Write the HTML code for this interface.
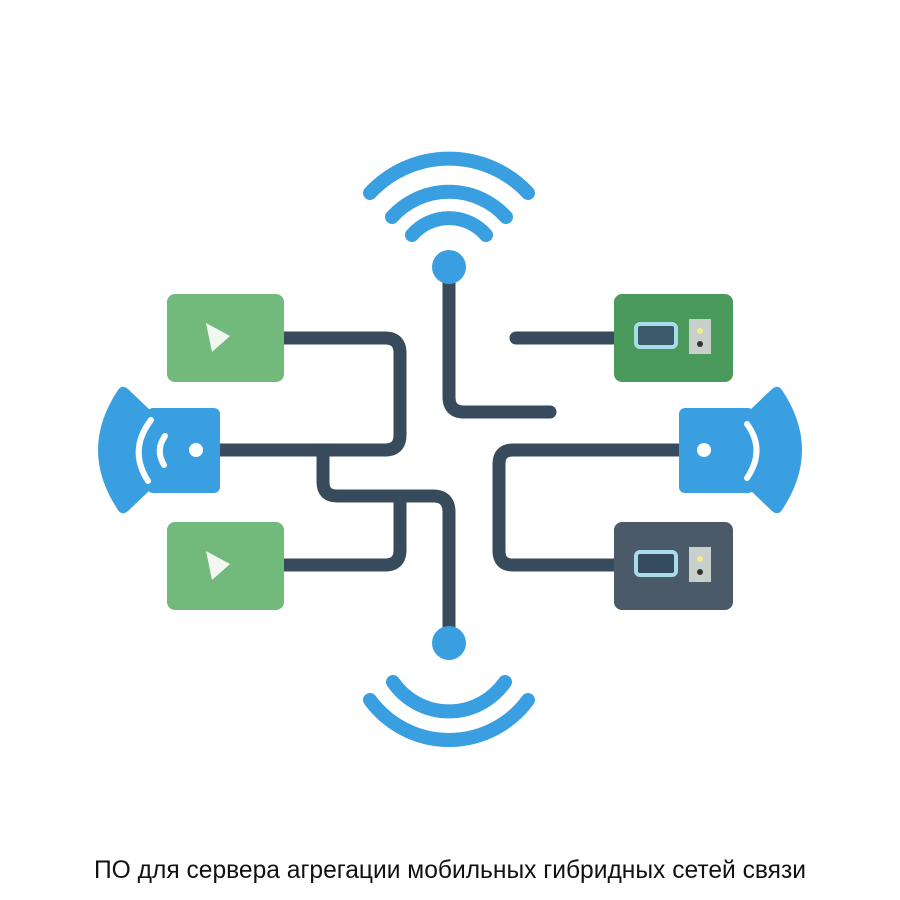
<!DOCTYPE html>
<html><head><meta charset="utf-8"><style>html,body{margin:0;padding:0;background:#fff}svg{display:block}</style></head>
<body>
<svg width="900" height="900" viewBox="0 0 900 900" xmlns="http://www.w3.org/2000/svg">
<rect width="900" height="900" fill="#fff"/>
<g fill="none" stroke="#374b5c" stroke-width="13" stroke-linecap="round" stroke-linejoin="round">
  <path d="M280 338 H385 Q400 338 400 353 V435 Q400 450 385 450 H215"/>
  <path d="M323 450 V482 Q323 496 337 496 H433 Q449 496 449 512 V630"/>
  <path d="M400 496 V550 Q400 565 385 565 H280"/>
  <path d="M449 280 V397 Q449 412 464 412 H550"/>
  <path d="M516 338 H616"/>
  <path d="M682 450 H513 Q499 450 499 464 V551 Q499 565 513 565 H616"/>
</g>
<g fill="none" stroke="#3a9fe0" stroke-width="14" stroke-linecap="round">
  <path d="M412 235 A49 49 0 0 1 486 235"/>
  <path d="M392 217 A77 77 0 0 1 506 217"/>
  <path d="M370 193 A108 108 0 0 1 528 193"/>
  <path d="M393 682 A68 68 0 0 0 505 682"/>
  <path d="M370 700 A98 98 0 0 0 528 700"/>
</g>
<circle cx="449" cy="267" r="17" fill="#3a9fe0"/>
<circle cx="449" cy="643" r="17" fill="#3a9fe0"/>
<rect x="167" y="294" width="117" height="88" rx="8" fill="#72b97c"/>
<rect x="167" y="522" width="117" height="88" rx="8" fill="#72b97c"/>
<path d="M206 323 L230 336 L212 352 Z" fill="#f2f7ef"/>
<path d="M206 551 L230 564 L212 580 Z" fill="#f2f7ef"/>
<path d="M150 410 L128 389 Q122 384 118 390 Q98 420 98 450 Q98 480 118 510 Q122 516 128 511 L150 490 Z" fill="#3a9fe0"/>
<rect x="147" y="408" width="73" height="85" rx="6" fill="#3a9fe0"/>
<g fill="none" stroke="#fff" stroke-width="6" stroke-linecap="round">
  <path d="M151 420 Q128 450 148 481"/>
  <path d="M165 436 Q155 450 164 465"/>
</g>
<circle cx="196" cy="450" r="7" fill="#fff"/>
<path d="M750 410 L772 389 Q778 384 782 390 Q802 420 802 450 Q802 480 782 510 Q778 516 772 511 L750 490 Z" fill="#3a9fe0"/>
<rect x="679" y="408" width="75" height="85" rx="6" fill="#3a9fe0"/>
<path d="M747 424 Q766 450 747 478" fill="none" stroke="#fff" stroke-width="6" stroke-linecap="round"/>
<circle cx="704" cy="450" r="7" fill="#fff"/>
<rect x="614" y="294" width="119" height="88" rx="8" fill="#4a9a5c"/>
<rect x="636" y="324" width="40" height="23" rx="4" fill="#3a5a6c" stroke="#a8dde8" stroke-width="4"/>
<rect x="689" y="319" width="22" height="35" fill="#c8cfcc"/>
<circle cx="700" cy="331" r="3" fill="#f4ec8c"/>
<circle cx="700" cy="344" r="3" fill="#333"/>
<rect x="614" y="522" width="119" height="88" rx="8" fill="#4a5a68"/>
<rect x="636" y="552" width="40" height="23" rx="4" fill="#354c5e" stroke="#a8dde8" stroke-width="4"/>
<rect x="689" y="547" width="22" height="35" fill="#c8cfcc"/>
<circle cx="700" cy="559" r="3" fill="#f4ec8c"/>
<circle cx="700" cy="572" r="3" fill="#333"/>
<text x="94" y="878" font-family="Liberation Sans, sans-serif" font-size="25" fill="#111" textLength="712" lengthAdjust="spacingAndGlyphs">ПО для сервера агрегации мобильных гибридных сетей связи</text>
</svg>
</body></html>
